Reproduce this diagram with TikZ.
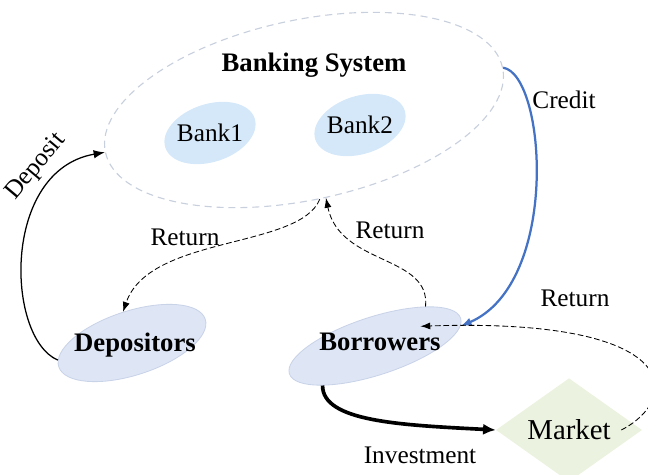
\documentclass[tikz,border=0pt]{standalone}
\usepackage{fontspec}
\setmainfont{Liberation Serif}
\usetikzlibrary{shapes.geometric,arrows.meta}
\definecolor{sysline}{HTML}{C8D0DD}
\definecolor{bankfill}{HTML}{D5E8F9}
\definecolor{agentfill}{HTML}{DEE6F6}
\definecolor{agentline}{HTML}{C9D3E8}
\definecolor{mktfill}{HTML}{EBF2DF}
\definecolor{creditblue}{HTML}{4472C4}
\begin{document}
\begin{tikzpicture}[
    sys/.style={ellipse, draw=sysline, line width=0.8pt, dash pattern=on 5pt off 3.5pt,
      minimum width=10.15cm, minimum height=4.5cm, rotate=12},
    bank/.style={ellipse, fill=bankfill, minimum width=2.35cm, minimum height=1.45cm, rotate=18},
    agent/.style={ellipse, fill=agentfill, draw=agentline, line width=0.6pt, rotate=18},
    mkt/.style={diamond, fill=mktfill, minimum width=3.65cm, minimum height=2.2cm,
      inner sep=0pt, font=\fontsize{20.5}{22}\selectfont},
    txt/.style={font=\fontsize{18}{20}\selectfont},
    head/.style={font=\fontsize{19}{21}\selectfont\bfseries},
    ret/.style={-{Latex[length=7pt,width=5pt]}, line width=0.6pt, dash pattern=on 4pt off 2pt},
  ]
  \useasboundingbox (0,0) rectangle (16.2,11.875);
  \path
    (7.6,9.125) node[sys] (sys){}
    (5.25,8.55) node[bank] (bank1){}
    (9.0,8.75) node[bank] (bank2){}
    (3.3,3.3) node[agent, minimum width=3.85cm, minimum height=1.6cm] (dep){}
    (9.375,3.225) node[agent, minimum width=4.5cm, minimum height=1.45cm] (bor){}
    (14.225,1.125) node[mkt] (mkt){Market};
  \path
    (7.85,10.25) node[head] (tsys){Banking System}
    (bank1) node[txt] (tbank1){Bank1}
    (bank2) node[txt] (tbank2){Bank2}
    (3.375,3.25) node[head] (tdep){Depositors}
    (9.5,3.325) node[head] (tbor){Borrowers}
    (0.9,7.7) node[txt, rotate=50] (ldeposit){Deposit}
    (14.1,9.375) node[txt] (lcredit){Credit}
    (4.625,5.95) node[txt] (lret1){Return}
    (9.75,6.125) node[txt] (lret2){Return}
    (14.375,4.425) node[txt] (lret3){Return}
    (10.5,0.5) node[txt] (linvest){Investment};
  \begin{scope}
    \draw[-{Latex[length=8pt,width=6pt]}, line width=0.9pt]
      (dep.175) .. controls +(-1.3,0.55) and +(-2.6,-0.45) .. (sys.west);
    \draw[-{Latex[length=8pt,width=6pt]}, creditblue, line width=1.6pt]
      (sys.east) .. controls +(1.075,-0.175) and +(2.5,1.075) .. (bor.-5);
    \draw[ret] (sys.-92) .. controls +(-0.5,-1.25) and +(0.65,1.925) .. (dep.88);
    \draw[ret] (bor.20) .. controls +(0.125,1.3) and +(0.35,-1.7) .. (sys.-88);
    \draw[ret] ([xshift=-0.525cm]mkt.east) .. controls +(1.475,0.75) and +(6.675,0.225) .. ([xshift=-1cm]bor.-5);
    \draw[-{Latex[length=9pt,width=8pt]}, line width=2.6pt]
      (bor.199) .. controls +(0,-0.9) and +(-2.4,0.125) .. (mkt.west);
  \end{scope}
\end{tikzpicture}
\end{document}
